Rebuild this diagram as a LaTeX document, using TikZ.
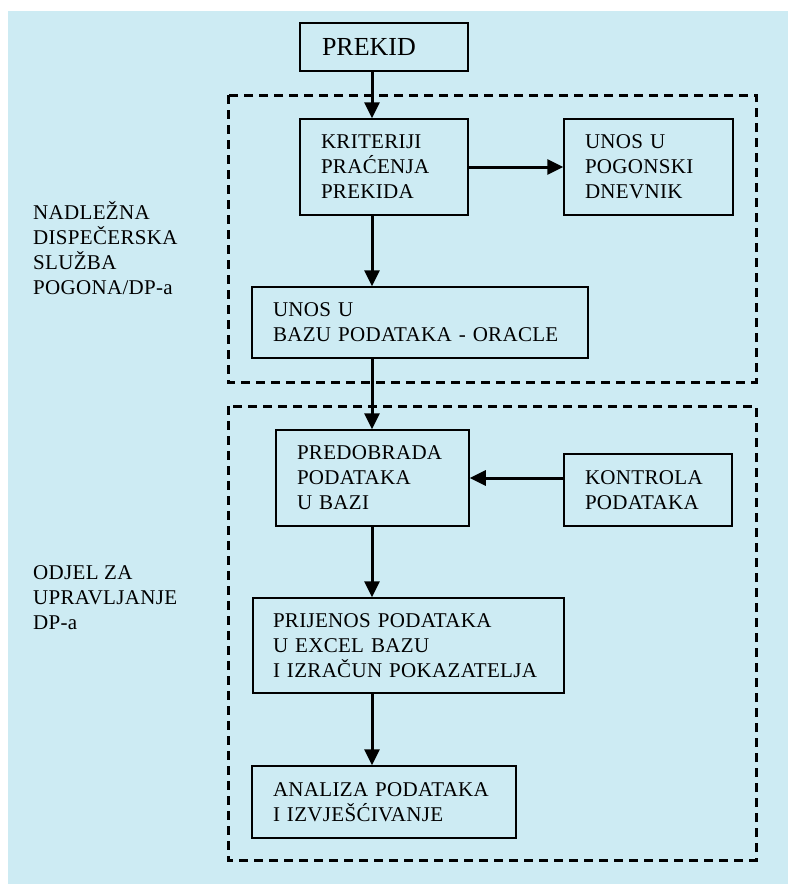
\documentclass[tikz,border=0pt]{standalone}
\usepackage{fontspec}
\setmainfont{Liberation Serif}
\usetikzlibrary{arrows.meta}
\definecolor{bgblue}{RGB}{205,235,243}
\newcommand{\boxfont}{\addfontfeature{LetterSpace=1.5}\fontsize{21}{25}\selectfont}
\begin{document}
\begin{tikzpicture}[x=1pt,y=-1pt,
  flowbox/.style={draw=black,line width=1.5pt,rectangle,inner ysep=0pt,
    align=left,font=\boxfont},
  arr/.style={line width=3pt,-{Triangle[length=16pt,width=15pt]}},
  dashbox/.style={line width=3pt,dash pattern=on 9pt off 6pt},
  sidelabel/.style={align=left,font=\boxfont,inner sep=0pt}]
\useasboundingbox (0,0) rectangle (788,884);
\fill[bgblue] (8,11) rectangle (788,884);
% dashed groups
\draw[dashbox] (228,95) rectangle (756,382);
\draw[dashbox] (228,406) rectangle (756,860);
% boxes
\node[flowbox,inner xsep=22pt,text width=124pt,minimum height=48pt,
  font=\fontsize{26}{30}\selectfont] (prekid) at (384,47) {PREKID};
\node[flowbox,inner xsep=21pt,text width=126pt,minimum height=96pt] (krit) at (384,167)
  {KRITERIJI\\PRAĆENJA\\PREKIDA};
\node[flowbox,inner xsep=21pt,text width=127pt,minimum height=96pt] (pogon) at (648.5,167)
  {UNOS U\\POGONSKI\\DNEVNIK};
\node[flowbox,inner xsep=21pt,text width=294pt,minimum height=71pt] (baza) at (420,322.5)
  {UNOS U\\BAZU PODATAKA - ORACLE};
\node[flowbox,inner xsep=21pt,text width=151pt,minimum height=96pt] (predo) at (372.5,478)
  {PREDOBRADA\\PODATAKA\\U BAZI};
\node[flowbox,inner xsep=21pt,text width=126pt,minimum height=72pt] (kontr) at (648,490)
  {KONTROLA\\PODATAKA};
\node[flowbox,inner xsep=20pt,text width=271pt,minimum height=95pt] (prij) at (408.5,645.5)
  {PRIJENOS PODATAKA\\U EXCEL BAZU\\I IZRAČUN POKAZATELJA};
\node[flowbox,inner xsep=21pt,text width=222pt,minimum height=72pt] (anal) at (384,802)
  {ANALIZA PODATAKA\\I IZVJEŠĆIVANJE};
% side labels (base anchor = last line)
\node[sidelabel,anchor=base west] (lab1) at (33,294)
  {NADLEŽNA\\DISPEČERSKA\\SLUŽBA\\POGONA/DP-a};
\node[sidelabel,anchor=base west] (lab2) at (33,629)
  {ODJEL ZA\\UPRAVLJANJE\\DP-a};
% connectors
\coordinate (ax) at (372,0);
\draw[arr] (prekid.south -| ax) -- (krit.north -| ax);
\draw[arr] (krit.east) -- (pogon.west);
\draw[arr] (krit.south -| ax) -- (baza.north -| ax);
\draw[arr] (baza.south -| ax) -- (predo.north -| ax);
\draw[arr] (kontr.west |- predo.east) -- (predo.east);
\draw[arr] (predo.south -| ax) -- (prij.north -| ax);
\draw[arr] (prij.south -| ax) -- (anal.north -| ax);
\end{tikzpicture}
\end{document}
